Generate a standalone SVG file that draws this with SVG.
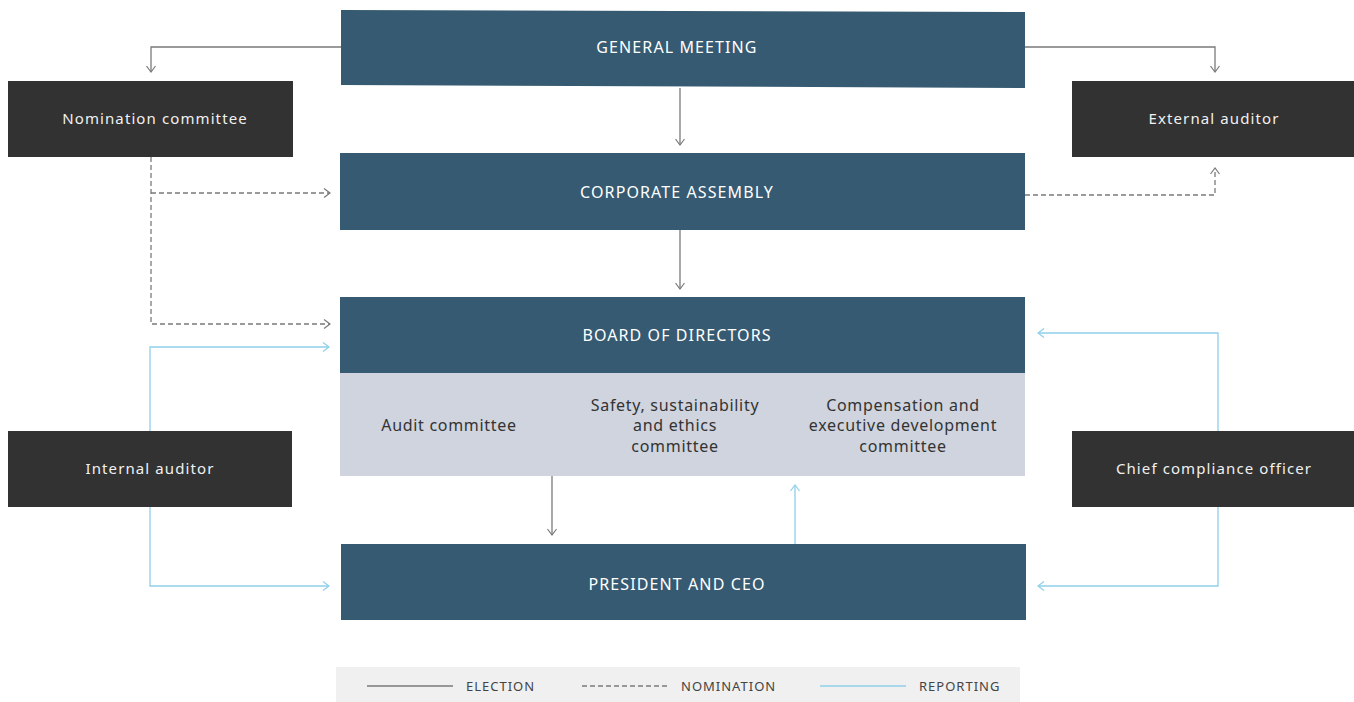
<svg xmlns="http://www.w3.org/2000/svg" width="1354" height="702" viewBox="0 0 1354 702">
<defs>
<style>
.main{fill:#365a71}
.dark{fill:#323232}
.comm{fill:#cfd4de}
.t{font-family:"Noto Sans","DejaVu Sans",sans-serif;font-size:16px;fill:#ffffff;text-anchor:middle;letter-spacing:1.1px}
.tl{font-family:"Noto Sans","DejaVu Sans",sans-serif;font-size:15px;fill:#f0f0f0;text-anchor:middle;letter-spacing:1.1px}
.tc{font-family:"Noto Sans","DejaVu Sans",sans-serif;font-size:16px;fill:#333333;text-anchor:middle;letter-spacing:0.7px}
.lg{font-family:"Noto Sans","DejaVu Sans",sans-serif;font-size:13px;fill:#444444;letter-spacing:1px}
.el{fill:none;stroke:#7a7a7a;stroke-width:1.3}
.nm{fill:none;stroke:#7a7a7a;stroke-width:1.3;stroke-dasharray:5 3}
.rp{fill:none;stroke:#8fd0ea;stroke-width:1.3}
</style>
<marker id="ag" markerWidth="12" markerHeight="12" refX="10" refY="6" orient="auto" markerUnits="userSpaceOnUse"><path d="M4,1.5 L10,6 L4,10.5" fill="none" stroke="#7a7a7a" stroke-width="1.2"/></marker>
<marker id="ab" markerWidth="12" markerHeight="12" refX="10" refY="6" orient="auto" markerUnits="userSpaceOnUse"><path d="M4,1.5 L10,6 L4,10.5" fill="none" stroke="#8fd0ea" stroke-width="1.2"/></marker>
</defs>
<rect width="1354" height="702" fill="#ffffff"/>
<g id="connectors">
<path class="el" d="M341,47 H151 V72" marker-end="url(#ag)"/>
<path class="el" d="M1025,47 H1215 V72" marker-end="url(#ag)"/>
<path class="el" d="M680,88 V145" marker-end="url(#ag)"/>
<path class="el" d="M680,230 V289" marker-end="url(#ag)"/>
<path class="nm" d="M151,157 V324 H330" marker-end="url(#ag)"/>
<path class="nm" d="M151,193 H330" marker-end="url(#ag)"/>
<path class="nm" d="M1025,195 H1215 V168" marker-end="url(#ag)"/>
<path class="rp" d="M150,431 V347 H329" marker-end="url(#ab)"/>
<path class="rp" d="M150,507 V586 H329" marker-end="url(#ab)"/>
<path class="rp" d="M1218,431 V333 H1038" marker-end="url(#ab)"/>
<path class="rp" d="M1218,507 V586 H1038" marker-end="url(#ab)"/>
<path class="el" d="M552,476 V535" marker-end="url(#ag)"/>
<path class="rp" d="M795,544 V485" marker-end="url(#ab)"/>
</g>
<g id="general-meeting">
<polygon class="main" points="341,10 1025,12 1025,88 341,85"/>
<text class="t" x="677" y="53">GENERAL MEETING</text>
</g>
<g id="nomination-committee">
<rect class="dark" x="8" y="81" width="285" height="76"/>
<text class="tl" x="155" y="124">Nomination committee</text>
</g>
<g id="external-auditor">
<rect class="dark" x="1072" y="81" width="282" height="76"/>
<text class="tl" x="1214" y="124">External auditor</text>
</g>
<g id="corporate-assembly">
<rect class="main" x="340" y="153" width="685" height="77"/>
<text class="t" x="677" y="198">CORPORATE ASSEMBLY</text>
</g>
<g id="board-of-directors">
<rect class="main" x="340" y="297" width="685" height="76"/>
<text class="t" x="677" y="341">BOARD OF DIRECTORS</text>
</g>
<g id="committees">
<rect class="comm" x="340" y="373" width="685" height="103"/>
<text class="tc" x="449" y="431">Audit committee</text>
<text class="tc" x="675" y="411">Safety, sustainability</text>
<text class="tc" x="675" y="431">and ethics</text>
<text class="tc" x="675" y="452">committee</text>
<text class="tc" x="903" y="411">Compensation and</text>
<text class="tc" x="903" y="431">executive development</text>
<text class="tc" x="903" y="452">committee</text>
</g>
<g id="internal-auditor">
<rect class="dark" x="8" y="431" width="284" height="76"/>
<text class="tl" x="150" y="474">Internal auditor</text>
</g>
<g id="chief-compliance-officer">
<rect class="dark" x="1072" y="431" width="282" height="76"/>
<text class="tl" x="1214" y="474">Chief compliance officer</text>
</g>
<g id="president-ceo">
<rect class="main" x="341" y="544" width="685" height="76"/>
<text class="t" x="677" y="590">PRESIDENT AND CEO</text>
</g>
<g id="legend">
<rect x="336" y="667" width="684" height="35" fill="#f0f0f0"/>
<line class="el" x1="367" y1="686" x2="453" y2="686"/>
<text class="lg" x="466" y="691">ELECTION</text>
<line class="nm" x1="582" y1="686" x2="668" y2="686" stroke-dasharray="4 2.5"/>
<text class="lg" x="681" y="691">NOMINATION</text>
<line class="rp" x1="820" y1="686" x2="906" y2="686"/>
<text class="lg" x="919" y="691">REPORTING</text>
</g>
</svg>
